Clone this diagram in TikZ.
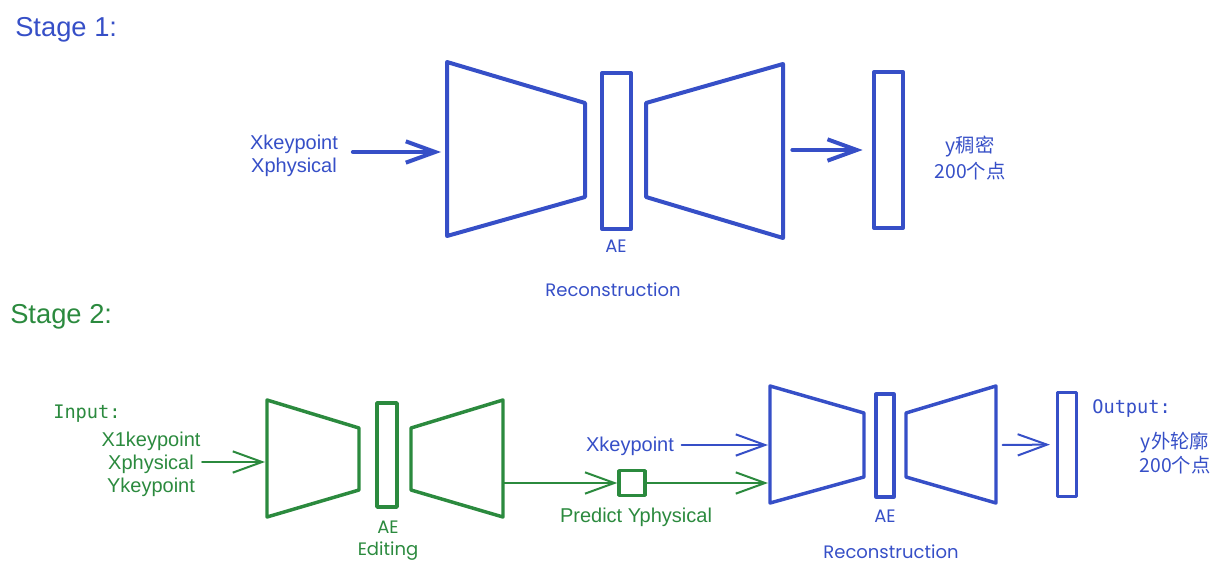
\documentclass[tikz,border=0pt]{standalone}
\usepackage{fontspec}
\setmainfont{Liberation Sans}
\setmonofont{DejaVu Sans Mono}
\newfontfamily\cjkfont{Noto Sans CJK SC}
\newfontfamily\handfont{Poppins}
\usetikzlibrary{arrows.meta}
\definecolor{aeblue}{HTML}{364FC7}
\definecolor{aegreen}{HTML}{2B8A3E}

\begin{document}
\begin{tikzpicture}
        [x=0.75pt, y=-0.75pt, line join=round, line cap=round,
         thickline/.style={line width=3pt},
         shapeline/.style={line width=2.6pt},
         thinline/.style={line width=1.5pt},
         arr/.style={-{Straight Barb[length=22pt, width=16pt]}},
         label/.style={font=\fontsize{15}{17.25}\selectfont, align=center, inner sep=1pt},
         cjk/.style={font=\cjkfont\fontsize{14.5}{19.5}\selectfont, align=center, inner sep=1pt},
         hand/.style={font=\handfont\fontsize{13.5}{16.5}\selectfont, align=center, inner sep=0pt},
         mono/.style={font=\ttfamily\fontsize{14}{16}\selectfont, anchor=west, inner sep=0pt},
         stage/.style={font=\fontsize{20.5}{24}\selectfont, anchor=west, inner sep=0pt}]

        \useasboundingbox (0,0) rectangle (1221,571);

        \node[stage, text=aeblue] (stage-1) at (15,30) {Stage 1:};
        \node[label, text=aeblue] (in-1) at (294,156) {Xkeypoint\\Xphysical};
        \coordinate (enc-1-in) at (441,152);
        \draw[aeblue, thickline] (447,62) -- (447,236) -- (585,197) -- (585,103) -- cycle;
        \node[draw=aeblue, thickline, minimum width=21.75pt, minimum height=117pt] (latent-1) at (616.5,151) {};
        \draw[aeblue, thickline] (646,103) -- (646,197) -- (783,238) -- (783,64) -- cycle;
        \coordinate (dec-1-out) at (783,150);
        \node[draw=aeblue, thickline, minimum width=21.75pt, minimum height=117pt] (out-1) at (888.5,150) {};
        \node[cjk, text=aeblue] (out-1-label) at (970,158) {y稠密\\200个点};
        \node[hand, text=aeblue] (ae-1) at (616,246) {AE};
        \node[hand, text=aeblue] (rec-1) at (613,290) {Reconstruction};

        \draw[aeblue, thickline, arr, shorten <=10pt] (in-1.east |- enc-1-in) -- (enc-1-in);
        \draw[aeblue, thickline, arr, shorten <=7pt, shorten >=7pt] (dec-1-out) -- (out-1);

        \node[stage, text=aegreen] (stage-2) at (10,317) {Stage 2:};
        \node[mono, text=aegreen] (input) at (53,414) {Input:};
        \node[label, text=aegreen] (in-2) at (151,464) {X1keypoint\\Xphysical\\Ykeypoint};
        \coordinate (enc-2-in) at (265,462);
        \draw[aegreen, shapeline] (267,400) -- (267,517) -- (359,490) -- (359,428) -- cycle;
        \node[draw=aegreen, shapeline, minimum width=15pt, minimum height=78pt] (latent-2) at (387,455) {};
        \draw[aegreen, shapeline] (411,428) -- (411,490) -- (503,517) -- (503,400) -- cycle;
        \coordinate (dec-2-out) at (503,483);
        \node[draw=aegreen, shapeline, minimum width=19.5pt, minimum height=18.5pt] (predict) at (632,483) {};
        \node[label, text=aegreen] (predict-label) at (636,517) {Predict Yphysical};
        \node[hand, text=aegreen] (ae-2) at (388,541) {AE\\Editing};

        \node[label, text=aeblue] (in-3) at (630,446) {Xkeypoint};
        \coordinate (enc-3-in-1) at (768,445);
        \coordinate (enc-3-in-2) at (768,483);
        \draw[aeblue, shapeline] (770,386) -- (770,503) -- (864,477) -- (864,413) -- cycle;
        \node[draw=aeblue, shapeline, minimum width=13.5pt, minimum height=77pt] (latent-3) at (885,445.5) {};
        \draw[aeblue, shapeline] (906,413) -- (906,477) -- (996,503) -- (996,386) -- cycle;
        \coordinate (dec-3-out) at (996,445);
        \node[draw=aeblue, shapeline, minimum width=14pt, minimum height=78pt] (out-3) at (1067,444.5) {};
        \node[mono, text=aeblue] (output) at (1092,409) {Output:};
        \node[cjk, text=aeblue, font=\cjkfont\fontsize{14.5}{18}\selectfont] (out-3-label) at (1175,453) {y外轮廓\\200个点};
        \node[hand, text=aeblue] (ae-3) at (885,516) {AE};
        \node[hand, text=aeblue] (rec-3) at (891,552) {Reconstruction};

        \draw[aegreen, thinline, arr] (in-2.east |- enc-2-in) -- (enc-2-in);
        \draw[aegreen, thinline, arr] (dec-2-out) -- (predict);
        \draw[aegreen, thinline, arr] (predict) -- (enc-3-in-2);
        \draw[aeblue, thinline, arr, shorten <=4.5pt] (in-3.east |- enc-3-in-1) -- (enc-3-in-1);
        \draw[aeblue, thinline, arr, shorten <=5pt, shorten >=4.5pt] (dec-3-out) -- (out-3);

    \end{tikzpicture}
\end{document}
